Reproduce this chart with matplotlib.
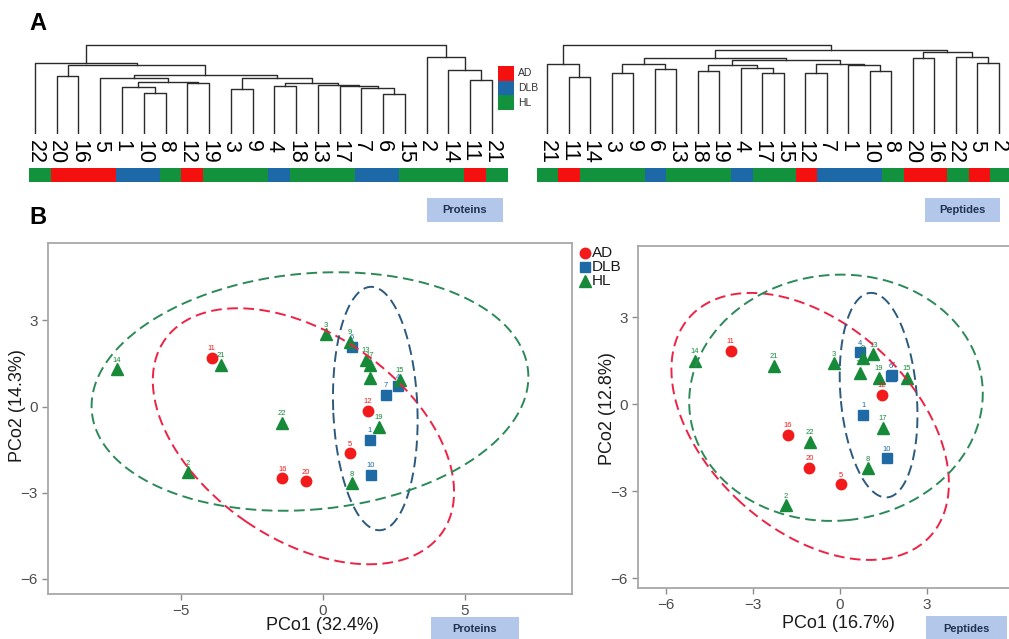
import numpy as np
import matplotlib
matplotlib.use("Agg")
import matplotlib.pyplot as plt
from matplotlib.patches import Rectangle

plt.rcParams["font.family"] = ["Liberation Sans", "DejaVu Sans"]

W, H = 1009, 639

# sample groups
AD = [5, 11, 12, 16, 20]
DLB = [1, 4, 6, 7, 10]
HL = [2, 3, 8, 9, 13, 14, 15, 17, 18, 19, 21, 22]
groups = ["AD", "DLB", "HL"]
members = {"AD": AD, "DLB": DLB, "HL": HL}
pt_col = {"AD": "#f21a1a", "DLB": "#1f6aa5", "HL": "#178a3a"}
bar_col = {"AD": "#f51010", "DLB": "#1d69a8", "HL": "#12923c"}
ell_col = {"AD": "#ee2244", "DLB": "#2c5a7e", "HL": "#2b8a57"}
marker = {"AD": "o", "DLB": "s", "HL": "^"}
msize = {"AD": 7.5, "DLB": 6.5, "HL": 8.5}

# hierarchical clustering trees: (left, right, merge height)
tree_prot = (
    (22, ((20, 16, 58),
          ((5, ((1, (10, 8, 41.3), 47.3), (12, 19, 51), 52.3), 56),
           ((3, 9, 44.7),
            ((4, 18, 48), (13, (17, (7, (6, 15, 40), 46), 48.5), 49.5), 51.3),
            56.3),
           59),
          69),
     71),
    (2, (14, (11, 21, 54), 64), 77),
    89)

tree_pep = (
    (21, (11, 14, 57.3), 69.7),
    ((((3, 9, 61.3), (6, 13, 64.7), 69.7),
      (((18, 19, 63), (4, (17, 15, 61.3), 65.7), 69.3),
       ((12, 7, 61.5), (1, (10, 8, 63), 69), 70.5),
       74),
      76),
     ((20, 16, 75.7), (22, (5, 2, 70.7), 76.7), 81.7),
     84.3),
    89.5)

# PCoA coordinates
prot_ids = [14, 11, 21, 3, 9, 6, 13, 17, 18, 15, 4, 7, 12, 19, 1, 5, 10, 8, 20, 16, 22, 2]
prot_x = [-7.25, -3.92, -3.59, 0.10, 0.95, 1.03, 1.50, 1.65, 1.64, 2.71, 2.63, 2.22,
          1.57, 1.98, 1.65, 0.95, 1.69, 1.03, -0.60, -1.43, -1.43, -4.76]
prot_y = [1.30, 1.71, 1.45, 2.52, 2.26, 2.09, 1.63, 1.45, 0.99, 0.93, 0.70, 0.41,
          -0.15, -0.70, -1.16, -1.62, -2.38, -2.67, -2.61, -2.50, -0.56, -2.29]

pep_ids = [14, 11, 21, 3, 4, 9, 13, 18, 19, 6, 7, 15, 12, 1, 17, 16, 22, 10, 20, 8, 5, 2]
pep_x = [-5.00, -3.77, -2.27, -0.20, 0.67, 0.78, 1.15, 0.67, 1.34, 1.76, 1.80, 2.30,
         1.44, 0.80, 1.47, -1.79, -1.03, 1.61, -1.06, 0.97, 0.02, -1.87]
pep_y = [1.49, 1.84, 1.32, 1.40, 1.78, 1.60, 1.72, 1.08, 0.91, 0.97, 1.02, 0.91,
         0.33, -0.36, -0.82, -1.05, -1.30, -1.87, -2.20, -2.22, -2.77, -3.48]

CHI2_95 = 5.991  # qchisq(0.95, 2)


def group_of(i):
    for g in groups:
        if i in members[g]:
            return g


fig = plt.figure(figsize=(W / 100, H / 100), dpi=100)


def px_axes(x0, y0, x1, y1, **kw):
    return fig.add_axes([x0 / W, 1 - y1 / H, (x1 - x0) / W, (y1 - y0) / H], **kw)


def draw_tree(ax, node, order):
    if isinstance(node, int):
        order.append(node)
        return len(order) - 1, 0.0
    a, b, h = node
    xa, ha = draw_tree(ax, a, order)
    xb, hb = draw_tree(ax, b, order)
    ax.plot([xa, xa, xb, xb], [ha, h, h, hb], color="#2b2b2b", lw=1.0)
    return (xa + xb) / 2, h


def dendro(tree, x0, x1, bx0, bx1):
    ax = px_axes(x0, 40, x1, 134)
    order = []
    draw_tree(ax, tree, order)
    n = len(order)
    ax.set_xlim(-0.5, n - 0.5)
    ax.set_ylim(0, 94)
    ax.set_xticks(range(n))
    ax.set_xticklabels([str(i) for i in order], rotation=270, fontsize=15.5)
    ax.tick_params(axis="x", length=0, pad=4.5)
    ax.set_yticks([])
    for s in ax.spines.values():
        s.set_visible(False)
    ax.patch.set_alpha(0)
    bx = px_axes(bx0, 168, bx1, 182)
    bx.bar(range(n), [1] * n, width=1.0, color=[bar_col[group_of(i)] for i in order], linewidth=0)
    bx.set_xlim(-0.5, n - 0.5)
    bx.set_ylim(0, 1)
    bx.axis("off")


dendro(tree_prot, 24.1, 502.8, 29, 507.5)
dendro(tree_pep, 536.3, 1009.3, 536.5, 1012)


def pcoa(ax, ids, xs, ys, xlim, ylim, xticks, yticks):
    ids = np.array(ids)
    xs = np.array(xs)
    ys = np.array(ys)
    g_arr = np.array([group_of(i) for i in ids])
    for g in groups:
        m = g_arr == g
        ax.plot(xs[m], ys[m], ls="none", marker=marker[g], ms=msize[g],
                color=pt_col[g], mec=pt_col[g], zorder=2)
    for i, x, y, g in zip(ids, xs, ys, g_arr):
        ax.annotate(str(i), (x, y), xytext=(0, 6.5), textcoords="offset points",
                    ha="center", va="center", fontsize=5.5, color=pt_col[g], zorder=2.5)
    t = np.linspace(0, 2 * np.pi, 240)
    circ = np.vstack([np.cos(t), np.sin(t)])
    for g in groups:
        m = g_arr == g
        pts = np.vstack([xs[m], ys[m]])
        mu = pts.mean(axis=1)
        vals, vecs = np.linalg.eigh(np.cov(pts))
        ell = vecs @ (np.sqrt(vals * CHI2_95)[:, None] * circ) + mu[:, None]
        ax.plot(ell[0], ell[1], ls=(0, (5.5, 2.8)), lw=1.4, color=ell_col[g], zorder=3)
    ax.set_xlim(*xlim)
    ax.set_ylim(*ylim)
    ax.set_xticks(xticks)
    ax.set_yticks(yticks)
    ax.tick_params(labelsize=11, labelcolor="#4d4d4d", color="#8c8c8c",
                   length=4, width=1)
    for s in ax.spines.values():
        s.set_color("#a8a8a8")
        s.set_linewidth(1.3)


axL = px_axes(48, 243, 572, 594)
pcoa(axL, prot_ids, prot_x, prot_y, (-9.68, 8.77), (-6.53, 5.70), [-5, 0, 5], [-6, -3, 0, 3])
axR = px_axes(638, 246, 1012, 588)
pcoa(axR, pep_ids, pep_x, pep_y, (-6.97, 5.93), (-6.34, 5.45), [-6, -3, 0, 3], [-6, -3, 0, 3])

# overlay in pixel coordinates for annotations
ov = px_axes(0, 0, W, H, zorder=10)
ov.set_xlim(0, W)
ov.set_ylim(H, 0)
ov.axis("off")

ov.text(38, 23, "A", fontsize=17, fontweight="bold", ha="center", va="center")
ov.text(38, 217, "B", fontsize=17, fontweight="bold", ha="center", va="center")

# dendrogram colour key
for k, g in enumerate(groups):
    ov.add_patch(Rectangle((498, 66 + 14.7 * k), 16, 14.7, color=bar_col[g], lw=0))
    ov.text(518, 73.5 + 14.7 * k, g, fontsize=7.5, color="#333333", va="center")

# scatter legend
for k, g in enumerate(groups):
    yk = 252.7 + 14 * k
    ov.plot(585, yk, marker=marker[g], ms=msize[g], color=pt_col[g], ls="none")
    ov.text(592, yk, g, fontsize=11, color="#1a1a1a", va="center")

# axis titles
ov.text(322, 625, "PCo1 (32.4%)", fontsize=13, ha="center", va="center", color="#1a1a1a")
ov.text(838, 624, "PCo1 (16.7%)", fontsize=13, ha="center", va="center", color="#1a1a1a")
ov.text(18, 406, "PCo2 (14.3%)", fontsize=13, ha="center", va="center", rotation=90, color="#1a1a1a")
ov.text(607, 409, "PCo2 (12.8%)", fontsize=13, ha="center", va="center", rotation=90, color="#1a1a1a")

# data-type tags
tags = [(427, 198, 503, 222, "Proteins"), (925, 198, 1000, 222, "Peptides"),
        (431, 617, 519, 645, "Proteins"), (926, 616, 1007, 645, "Peptides")]
for x0, y0, x1, y1, s in tags:
    ov.add_patch(Rectangle((x0, y0), x1 - x0, y1 - y0, color="#b2c7ea", lw=0))
    yc = (y0 + y1) / 2 if y1 < H else (y0 + H) / 2 + 1
    ov.text((x0 + x1) / 2, yc, s, fontsize=8, fontweight="bold", color="#1f3050",
            ha="center", va="center")

fig.savefig("out.png", dpi=100, facecolor="white")
